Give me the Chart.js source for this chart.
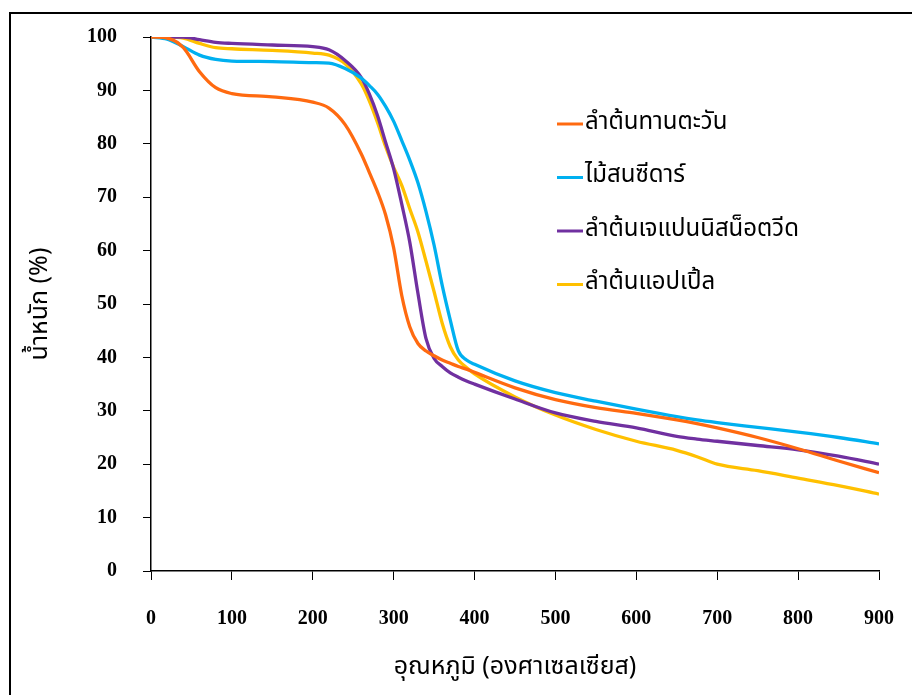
<!DOCTYPE html>
<html>
<head>
<meta charset="utf-8">
<script src="https://cdn.jsdelivr.net/npm/chart.js@4.4.1/dist/chart.umd.min.js"></script>
<style>
  html, body { margin: 0; padding: 0; background: #fff; overflow: hidden; }
  #frame { position: absolute; left: 9px; top: 12px; width: 1000px; height: 800px;
           border-left: 2px solid #000; border-top: 2px solid #000; }
  #wrap { position: absolute; left: 0; top: 0; width: 912px; height: 695px; }
</style>
</head>
<body>
<div id="frame"></div>
<div id="wrap"><canvas id="tgaChart"></canvas></div>
<script>
// temperature (°C) sample points shared by all curves
const temps = [0, 20, 40, 60, 80, 100, 150, 200, 220, 240, 260, 270, 280, 290, 300, 310, 320, 330, 340, 350,
  360, 370, 380, 390, 400, 450, 500, 550, 600, 650, 675, 700, 750, 800, 850, 900];

// weight (%) per sample
const sunflower = [100, 99.8, 98, 93.5, 90.5, 89.4, 88.8, 87.8, 86.7, 83.6, 78.1, 74.6, 71, 66.7, 60.5, 51.6, 45.7, 42.6, 41.2, 40.3,
  39.5, 38.9, 38.3, 37.8, 37.2, 34.3, 32.1, 30.6, 29.5, 28.3, 27.6, 26.8, 25, 22.9, 20.6, 18.4];
const cedar = [100, 99.6, 98.2, 96.6, 95.8, 95.5, 95.4, 95.2, 95.1, 94.1, 92.3, 90.9, 89.3, 87, 84.2, 80.6, 76.9, 72.7, 67.3, 61,
  53.5, 47, 41.2, 39.5, 38.7, 35.6, 33.4, 31.8, 30.3, 28.9, 28.3, 27.8, 26.9, 26, 25, 23.8];
const knotweed = [100, 100, 100, 99.5, 99, 98.8, 98.5, 98.2, 97.6, 95.6, 92.4, 89.3, 85.3, 80.3, 75.3, 68.7, 61.5, 52, 43.5, 39.8,
  38.3, 37.1, 36.3, 35.6, 35, 32.2, 29.6, 28, 26.8, 25.2, 24.7, 24.3, 23.5, 22.7, 21.5, 20];
const apple = [100, 100, 99.8, 98.8, 98, 97.8, 97.5, 97, 96.6, 95, 91.2, 88, 84, 79.5, 75.6, 72.2, 67.8, 63.5, 58, 52.3,
  46.4, 42, 39.5, 38.1, 36.9, 32.6, 29.2, 26.5, 24.3, 22.6, 21.4, 20, 18.8, 17.4, 16, 14.4];

const seriesNames = ["ลำต้นทานตะวัน", "ไม้สนซีดาร์", "ลำต้นเจแปนนิสน็อตวีด", "ลำต้นแอปเปิ้ล"];
const seriesColors = ["#FF6A10", "#00B0F0", "#7030A0", "#FFC000"];
const seriesValues = [sunflower, cedar, knotweed, apple];

const thaiFont = "'Noto Sans Thai', 'Noto Sans', 'DejaVu Sans', sans-serif";
const tickFont = "'Liberation Serif', 'Times New Roman', serif";

// legend drawn inside the plot at the right-hand side
const sideLegend = {
  id: "sideLegend",
  afterDraw(chart) {
    const ctx = chart.ctx;
    ctx.save();
    ctx.font = "24px " + thaiFont;
    ctx.textBaseline = "middle";
    chart.data.datasets.forEach(function (ds, i) {
      const y = 124 + i * 53.5;
      ctx.strokeStyle = ds.borderColor;
      ctx.lineWidth = 3;
      ctx.beginPath();
      ctx.moveTo(557, y);
      ctx.lineTo(583, y);
      ctx.stroke();
      ctx.fillStyle = "#000";
      ctx.fillText(ds.label, 585, y);
    });
    ctx.restore();
  }
};

new Chart(document.getElementById("tgaChart"), {
  type: "line",
  data: {
    datasets: seriesNames.map(function (name, i) {
      return {
        label: name,
        data: temps.map(function (t, j) { return { x: t, y: seriesValues[i][j] }; }),
        borderColor: seriesColors[i],
        backgroundColor: seriesColors[i],
        borderWidth: 3.3,
        pointRadius: 0,
        cubicInterpolationMode: "monotone",
        fill: false
      };
    })
  },
  options: {
    responsive: true,
    maintainAspectRatio: false,
    animation: false,
    layout: { padding: { top: 37, right: 33, left: 0, bottom: 0 } },
    plugins: {
      legend: { display: false },
      tooltip: { enabled: false }
    },
    scales: {
      x: {
        type: "linear",
        min: 0,
        max: 900,
        afterFit: function (scale) {
          scale.height = 124;
          scale.paddingLeft = 0;
          scale.paddingRight = 0;
        },
        ticks: {
          stepSize: 100,
          color: "#000",
          padding: 27,
          maxRotation: 0,
          font: { family: tickFont, size: 20, weight: "bold" }
        },
        grid: { drawOnChartArea: false, drawTicks: true, tickLength: 9, color: "#000", lineWidth: 1 },
        border: { color: "#000", width: 1.5 },
        title: {
          display: true,
          text: "อุณหภูมิ (องศาเซลเซียส)",
          color: "#000",
          padding: { top: 0, bottom: 11 },
          font: { family: thaiFont, size: 25 }
        }
      },
      y: {
        min: 0,
        max: 100,
        afterFit: function (scale) {
          scale.width = 151;
          scale.paddingTop = 0;
          scale.paddingBottom = 0;
        },
        ticks: {
          stepSize: 10,
          color: "#000",
          padding: 26,
          font: { family: tickFont, size: 20, weight: "bold" }
        },
        grid: { drawOnChartArea: false, drawTicks: true, tickLength: 8, color: "#000", lineWidth: 1 },
        border: { color: "#000", width: 1.5 },
        title: {
          display: true,
          text: "น้ำหนัก (%)",
          color: "#000",
          padding: { top: 27, bottom: 0 },
          font: { family: thaiFont, size: 25 }
        }
      }
    }
  },
  plugins: [sideLegend]
});
</script>
</body>
</html>
